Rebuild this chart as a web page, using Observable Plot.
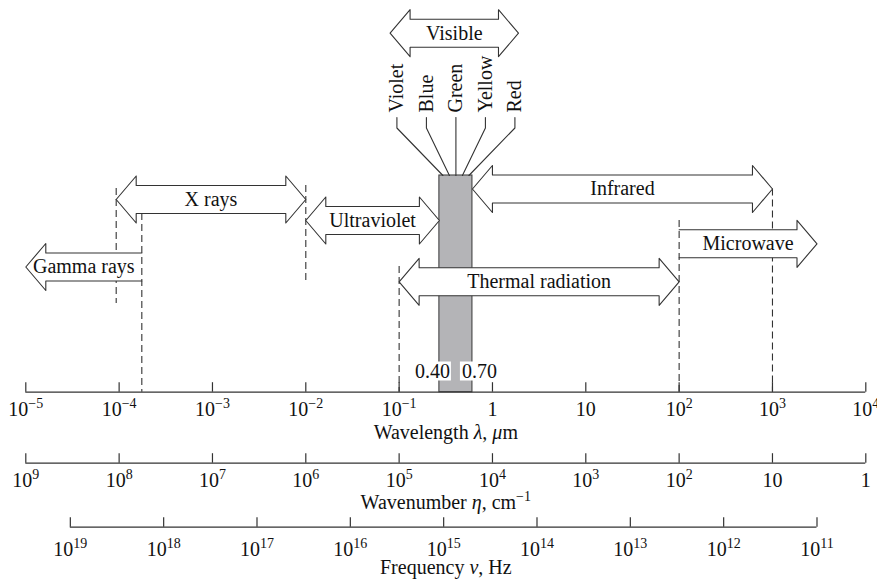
<!DOCTYPE html>
<html>
<head>
<meta charset="utf-8">
<script src="https://cdn.jsdelivr.net/npm/d3@7"></script>
<script src="https://cdn.jsdelivr.net/npm/@observablehq/plot@0.6"></script>
<style>
  html, body { margin: 0; padding: 0; background: #fff; }
  #chart { width: 877px; height: 581px; }
</style>
</head>
<body>
<div id="chart"></div>
<script>
// ---------------- DATA (wavelengths in μm) ----------------
const bandNames = ["Visible", "X rays", "Infrared", "Ultraviolet", "Microwave", "Gamma rays", "Thermal radiation"];
const bandFrom  = [0.08, 9.3e-5, 0.61, 1e-2, 100, 1e-5, 0.1];
const bandTo    = [1.9, 1e-2, 1000, 0.27, 3000, 1.75e-4, 100];
const bandHeads = ["both", "both", "both", "both", "right", "left", "both"];

const visibleColors = ["Violet", "Blue", "Green", "Yellow", "Red"];
const visibleBand = [0.27, 0.61];
const visibleEdgeLabels = ["0.40", "0.70"];

const boundaries = [9.3e-5, 1.75e-4, 1e-2, 0.1, 100, 1000];

const wavelengthTicks = [1e-5, 1e-4, 1e-3, 1e-2, 1e-1, 1, 10, 1e2, 1e3, 1e4];
const wavenumberTicks = [1e9, 1e8, 1e7, 1e6, 1e5, 1e4, 1e3, 1e2, 10, 1];      // cm^-1
const frequencyTicks  = [1e19, 1e18, 1e17, 1e16, 1e15, 1e14, 1e13, 1e12, 1e11]; // Hz

const axisTitles = ["Wavelength *λ*, *μ*m", "Wavenumber *η*, cm^{−1}", "Frequency *ν*, Hz"];

// ---------------- LAYOUT / STYLE ----------------
const W = 877, H = 581;
const X_RANGE = [25.3, 865.3];
const rowY = {"Visible": 32.7, "X rays": 199, "Infrared": 188.5, "Ultraviolet": 220,
              "Microwave": 243.3, "Gamma rays": 266.5, "Thermal radiation": 281.3};
const SHAFT = 14, HEAD = 23.5, HEADLEN = 20;
const axisY   = [391.7, 462.7, 526.7];
const labelY  = [409, 480.5, 549];
const titleY  = [431.7, 501.7, 567.5];
const TICK = 9.5;
const barTop = 175;
const dashTop    = [188, 213, 185, 266, 220, 188.5];
const dashBottom = [303, axisY[0], 282, axisY[0], axisY[0], axisY[0]];
const dashOnTop  = [false, true, false, false, true, false];
const INK = "#111", LINE = "#333";
const FONT = "'Liberation Serif', 'Times New Roman', serif";

const xs = Plot.scale({x: {type: "log", domain: [1e-5, 1e4], range: X_RANGE}});
const px = v => xs.apply(v), inv = p => xs.invert(p);

// unit conversions to wavelength (μm)
const fromWavenumber = eta => 1e4 / eta;
const fromFrequency = nu => 3e14 / nu;

const fmt = v => {
  const p = Math.round(Math.log10(v));
  if (p === 0) return "1";
  if (p === 1) return "10";
  return "10^{" + String(p).replace("-", "−") + "}";
};

// arrow polygons in pixel space, converted back through the x scale
function arrowPts(i) {
  const a = px(bandFrom[i]), b = px(bandTo[i]), c = rowY[bandNames[i]];
  const h = SHAFT, Hh = HEAD, L = HEADLEN, kind = bandHeads[i];
  let pts;
  if (kind === "both") pts = [[a,c],[a+L,c-Hh],[a+L,c-h],[b-L,c-h],[b-L,c-Hh],[b,c],[b-L,c+Hh],[b-L,c+h],[a+L,c+h],[a+L,c+Hh],[a,c]];
  else if (kind === "left") pts = [[b,c-h],[a+L,c-h],[a+L,c-Hh],[a,c],[a+L,c+Hh],[a+L,c+h],[b,c+h]];
  else pts = [[a,c-h],[b-L,c-h],[b-L,c-Hh],[b,c],[b-L,c+Hh],[b-L,c+h],[a,c+h]];
  return pts.map(([x, y], k) => ({band: bandNames[i], k, x: inv(x), y}));
}
const arrowData = bandNames.flatMap((d, i) => arrowPts(i));

const cpx = (px(visibleBand[0]) + px(visibleBand[1])) / 2;
const leaderData = visibleColors.flatMap((name, i) => {
  const lx = cpx + (i - 2) * 29.5, ex = cpx + (i - 2) * 6.5;
  return [
    {name, x: inv(lx), y: 117},
    {name, x: inv(lx), y: i === 2 ? 117 : 127.5},
    {name, x: inv(ex), y: barTop}
  ];
});

const axisDefs = [
  {ticks: wavelengthTicks, conv: v => v},
  {ticks: wavenumberTicks, conv: fromWavenumber},
  {ticks: frequencyTicks, conv: fromFrequency}
];

const dashOpts = top => ({
  x: d => d, y1: (d, i) => dashTop[i], y2: (d, i) => dashBottom[i],
  filter: (d, i) => dashOnTop[i] === top,
  stroke: LINE, strokeWidth: 1.1, strokeDasharray: "7,4"
});

const marks = [];
// dashed boundaries (under the arrows)
marks.push(Plot.ruleX(boundaries, dashOpts(false)));
// gray visible bar
marks.push(Plot.rect([visibleBand], {x1: d => d[0], x2: d => d[1], y1: () => barTop, y2: () => axisY[0],
  fill: "#b4b4b7", stroke: "#444", strokeWidth: 1.1}));
// arrows: fill then outline
marks.push(Plot.line(arrowData, {x: "x", y: "y", z: "band", fill: "white", stroke: "none", curve: "linear-closed"}));
marks.push(Plot.line(arrowData, {x: "x", y: "y", z: "band", stroke: LINE, strokeWidth: 1.1, fill: "none"}));
// dashed boundaries closing the open arrow ends
marks.push(Plot.ruleX(boundaries, dashOpts(true)));
marks.push(Plot.text(bandNames, {x: (d, i) => inv((px(bandFrom[i]) + px(bandTo[i])) / 2), y: d => rowY[d],
  text: d => d, fontSize: 20, fill: INK, fontFamily: FONT}));
// color leaders & labels
marks.push(Plot.line(leaderData, {x: "x", y: "y", z: "name", stroke: LINE, strokeWidth: 1.1}));
marks.push(Plot.text(visibleColors, {x: (d, i) => inv(cpx + (i - 2) * 29.5), y: () => 112, rotate: -90,
  textAnchor: "start", text: d => d, fontSize: 20, fill: INK, fontFamily: FONT}));
// 0.40 / 0.70 labels with white boxes
marks.push(Plot.rect(visibleEdgeLabels, {x1: (d, i) => inv(cpx + (i ? 23.5 : -23.5) - 19), x2: (d, i) => inv(cpx + (i ? 23.5 : -23.5) + 19),
  y1: () => 361.5, y2: () => 380.5, fill: "white"}));
marks.push(Plot.text(visibleEdgeLabels, {x: (d, i) => inv(cpx + (i ? 23.5 : -23.5)), y: () => 371.5,
  text: d => d, fontSize: 20, fill: INK, fontFamily: FONT}));
// three axes
axisDefs.forEach((ax, j) => {
  const t0 = ax.conv(ax.ticks[0]), t1 = ax.conv(ax.ticks[ax.ticks.length - 1]);
  marks.push(Plot.ruleY([axisY[j]], {y: d => d, x1: () => t0, x2: () => t1, stroke: LINE, strokeWidth: 1.2}));
  marks.push(Plot.ruleX(ax.ticks, {x: d => ax.conv(d), y1: () => axisY[j] - TICK, y2: () => axisY[j], stroke: LINE, strokeWidth: 1.2}));
  marks.push(Plot.text(ax.ticks, {x: d => ax.conv(d), y: () => labelY[j], text: fmt, fontSize: 20, fill: INK, fontFamily: FONT,
    dx: (j === 0) ? 0 : 0}));
});
marks.push(Plot.text(axisTitles, {x: () => inv((X_RANGE[0] + X_RANGE[1]) / 2), y: (d, i) => titleY[i],
  text: d => d, fontSize: 20, fill: INK, fontFamily: FONT}));

const svg = Plot.plot({
  width: W, height: H, margin: 0,
  style: {background: "white", fontFamily: FONT, fontSize: "20px", overflow: "visible"},
  x: {type: "log", domain: [1e-5, 1e4], range: X_RANGE, axis: null},
  y: {domain: [0, H], range: [0, H], axis: null},
  marks
});

// rich text: ^{...} superscript, *...* italic
function richify(root) {
  const NS = "http://www.w3.org/2000/svg";
  root.querySelectorAll("text").forEach(t => {
    const s = t.textContent;
    if (!/\^\{|\*/.test(s)) return;
    while (t.firstChild) t.removeChild(t.firstChild);
    const re = /\^\{([^}]*)\}|\*([^*]*)\*|([^\^*]+)/g;
    let m, shift = 0;
    while ((m = re.exec(s))) {
      const ts = document.createElementNS(NS, "tspan");
      if (m[1] !== undefined) {
        ts.textContent = m[1];
        ts.setAttribute("font-size", "14");
        ts.setAttribute("dy", "-8");
        shift = 8;
      } else {
        ts.textContent = m[2] !== undefined ? m[2] : m[3];
        if (m[2] !== undefined) ts.setAttribute("font-style", "italic");
        if (shift) { ts.setAttribute("dy", String(shift)); shift = 0; }
      }
      t.appendChild(ts);
    }
  });
}
richify(svg);
document.getElementById("chart").appendChild(svg);
</script>
</body>
</html>
